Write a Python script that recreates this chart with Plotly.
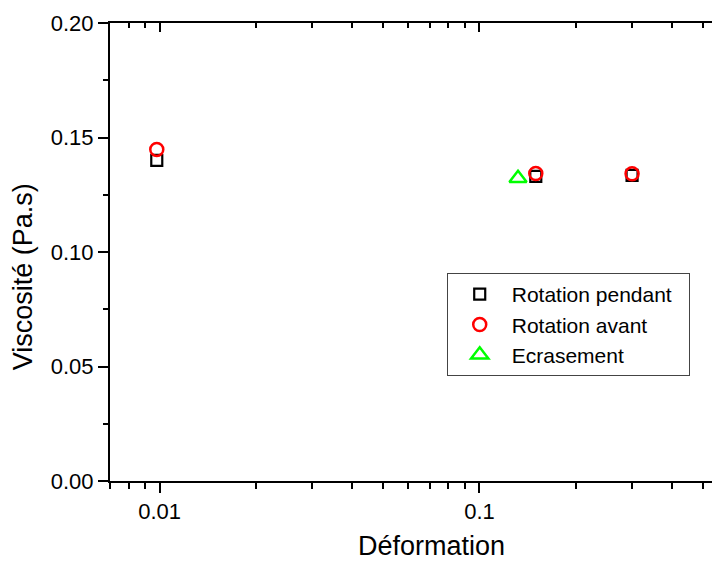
import plotly.graph_objects as go

# Data
series_names = ["Rotation pendant", "Rotation avant", "Ecrasement"]
pendant_x = [0.0098, 0.15, 0.3]
pendant_y = [0.140, 0.1330, 0.1335]
avant_x = [0.0098, 0.15, 0.3]
avant_y = [0.1448, 0.1343, 0.1342]
ecras_x = [0.132]
ecras_y = [0.1322]

x_tickvals = [0.01, 0.1]
x_ticktext = ["0.01", "0.1"]
x_minor = [0.007, 0.008, 0.009, 0.02, 0.03, 0.04, 0.05, 0.06, 0.07, 0.08, 0.09,
           0.2, 0.3, 0.4, 0.5, 0.6]
y_tickvals = [0.00, 0.05, 0.10, 0.15, 0.20]

FONT = "Liberation Sans, Arial, sans-serif"
xr = [-2.155, -0.248]
yr = [0, 0.2]
PAD = "\u00a0\u00a0"  # small right padding inside the legend box

fig = go.Figure()
fig.add_trace(go.Scatter(x=pendant_x, y=pendant_y, mode="markers", name=series_names[0] + PAD,
                         marker=dict(symbol="square-open", size=11, color="black",
                                     line=dict(width=2.2, color="black"))))
fig.add_trace(go.Scatter(x=avant_x, y=avant_y, mode="markers", name=series_names[1],
                         marker=dict(symbol="circle-open", size=13, color="red",
                                     line=dict(width=2.5, color="red"))))
fig.add_trace(go.Scatter(x=ecras_x, y=ecras_y, mode="markers", name=series_names[2],
                         marker=dict(symbol="triangle-up-open", size=15, color="#00ff00",
                                     line=dict(width=2.5, color="#00ff00"))))
# dummy traces to materialize mirror axes
fig.add_trace(go.Scatter(x=[None], y=[None], xaxis="x2", yaxis="y", showlegend=False, hoverinfo="skip"))
fig.add_trace(go.Scatter(x=[None], y=[None], xaxis="x", yaxis="y2", showlegend=False, hoverinfo="skip"))

# page has an 8px body margin: figure is 712x554 so that it fills 8..720 x 8..562
fig.update_layout(
    width=712, height=554,
    margin=dict(l=102, r=0, t=15, b=81),
    paper_bgcolor="white", plot_bgcolor="white",
    font=dict(family=FONT, size=22, color="black"),
    showlegend=True,
    legend=dict(x=0.552, y=0.4541, xanchor="left", yanchor="top",
                bordercolor="#444", borderwidth=1, bgcolor="white",
                font=dict(family=FONT, size=21, color="black"),
                itemwidth=54, tracegroupgap=0),
    xaxis=dict(type="log", range=xr, showgrid=False, zeroline=False,
               showline=True, linecolor="black", linewidth=2,
               ticks="outside", ticklen=10, tickwidth=2, tickcolor="black",
               tickvals=x_tickvals, ticktext=x_ticktext,
               minor=dict(tickvals=x_minor, ticks="outside", ticklen=6, tickwidth=2, tickcolor="black"),
               mirror=False),
    xaxis2=dict(type="log", range=xr, overlaying="x", side="top", anchor="y",
                showgrid=False, zeroline=False, showline=True, linecolor="black", linewidth=2,
                ticks="inside", ticklen=9, tickwidth=2, tickcolor="black",
                tickvals=x_tickvals, showticklabels=False,
                minor=dict(tickvals=x_minor, ticks="inside", ticklen=5, tickwidth=2, tickcolor="black")),
    yaxis=dict(range=yr, showgrid=False, zeroline=False,
               showline=True, linecolor="black", linewidth=2,
               ticks="outside", ticklen=10, tickwidth=2, tickcolor="black",
               tickvals=y_tickvals, tickformat=".2f",
               minor=dict(dtick=0.025, ticks="outside", ticklen=5, tickwidth=2, tickcolor="black"),
               mirror=False),
    yaxis2=dict(range=yr, overlaying="y", side="right", anchor="x",
                showgrid=False, zeroline=False, showline=False,
                ticks="inside", ticklen=2, tickwidth=2, tickcolor="black",
                tickvals=y_tickvals, showticklabels=False),
    annotations=[
        dict(text="Déformation", xref="paper", yref="paper", x=0.527, y=-0.143,
             xanchor="center", yanchor="middle", showarrow=False,
             font=dict(family=FONT, size=27, color="black")),
        dict(text="Viscosité (Pa.s)", xref="paper", yref="paper", x=-0.1426, y=0.445,
             xanchor="center", yanchor="middle", textangle=-90, showarrow=False,
             font=dict(family=FONT, size=27, color="black")),
    ],
)

fig.write_html("out.html")
